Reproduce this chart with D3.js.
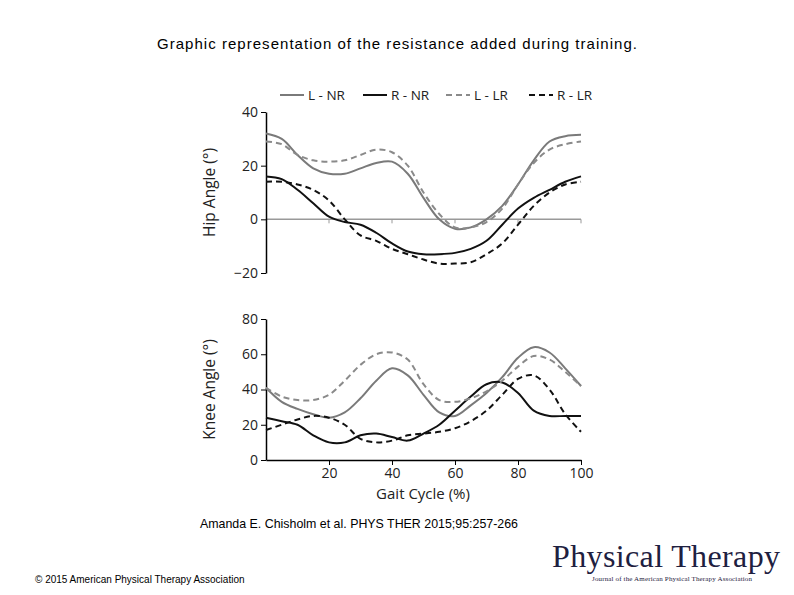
<!DOCTYPE html>
<html><head><meta charset="utf-8">
<script src="https://cdn.jsdelivr.net/npm/d3@7"></script>
<style>body{margin:0;background:#fff}svg{display:block}</style>
</head><body>
<svg id="chart" width="794" height="595"></svg>
<script>
var gait = d3.range(0, 101, 5);
var hipLNR = [32,30,24,19,17,17,19,21,21.5,17,8,0,-3.5,-3,0,5,13,22,29,31,31.5];
var hipLLR = [29,28,24,22,21.5,22,24,26,25,20,10,2,-3,-3,-1,4,13,21,26,28,29];
var hipRNR = [16,15,11,6,1,-1,-2,-5,-9,-12,-13,-13,-12.5,-11,-8,-2,4,8,11,14,16];
var hipRLR = [14,14,13,11,7,0,-6,-8,-11,-13,-15,-16.5,-16.5,-16,-13,-9,-2,5,10,13,14];
var kneeLNR = [41,33,29,26,24,27,35,45,52,48,37,27,25,31,38,47,58,64,61,52,42];
var kneeLLR = [41,36,34,34,37,45,54,60,61,57,43,34,33,35,39,45,53,59,57,50,42];
var kneeRNR = [24,22,20,14,10,10,14,15,13,11,15,20,28,36,43,44,38,28,25,25,25];
var kneeRLR = [17,20,23,25,24,20,12,10,11,14,15,16,18,22,28,37,46,48,40,26,16];
var hipTicks = [-20, 0, 20, 40];
var kneeTicks = [0, 20, 40, 60, 80];
var xTicks = [20, 40, 60, 80, 100];
var legendNames = ["L - NR", "R - NR", "L - LR", "R - LR"];

var svg = d3.select("#chart");
var font = "'Open Sans', sans-serif";
var styles = [
  {color: "#7a7a7a", dash: null},
  {color: "#111", dash: null},
  {color: "#8a8a8a", dash: "6,4"},
  {color: "#111", dash: "6,4"}
];

svg.append("text").attr("x", 397).attr("y", 49).attr("text-anchor", "middle")
  .attr("font-family", "'Liberation Sans', Arial").attr("font-size", 15)
  .attr("textLength", 480).text("Graphic representation of the resistance added during training.");

var x = d3.scaleLinear().domain([0, 100]).range([266, 581]);

// legend
legendNames.forEach(function (n, i) {
  var lx = 280 + i * 83;
  svg.append("line").attr("x1", lx).attr("x2", lx + 24).attr("y1", 95).attr("y2", 95)
    .attr("stroke", styles[i].color).attr("stroke-width", 2)
    .attr("stroke-dasharray", styles[i].dash);
  svg.append("text").attr("x", lx + 28).attr("y", 100).attr("font-family", font)
    .attr("font-size", 13.5).attr("fill", "#222").text(n);
});

function panel(series, yDomain, yRange, ticks, label, zeroLine) {
  var y = d3.scaleLinear().domain(yDomain).range(yRange);
  var g = svg.append("g");
  if (zeroLine) {
    g.append("line").attr("x1", x(0)).attr("x2", x(100)).attr("y1", y(0)).attr("y2", y(0))
      .attr("stroke", "#999").attr("stroke-width", 1.5);
    xTicks.forEach(function (t) {
      g.append("line").attr("x1", x(t)).attr("x2", x(t)).attr("y1", y(0)).attr("y2", y(0) + 4)
        .attr("stroke", "#999");
    });
  } else {
    var xa = g.append("g").attr("transform", "translate(0," + y(0) + ")")
      .call(d3.axisBottom(x).tickValues(xTicks).tickSize(5).tickSizeOuter(0));
    xa.select(".domain").attr("stroke-width", 1.5);
    xa.selectAll("text").attr("font-family", font).attr("font-size", 14).attr("fill", "#222");
  }
  var ya = g.append("g").attr("transform", "translate(" + x(0) + ",0)")
    .call(d3.axisLeft(y).tickValues(ticks).tickSize(5).tickSizeOuter(0).tickFormat(d3.format("d")));
  ya.select(".domain").attr("stroke-width", 1.5);
  ya.selectAll("text").attr("font-family", font).attr("font-size", 14).attr("fill", "#222");
  g.append("text").attr("transform", "translate(215," + ((yRange[0] + yRange[1]) / 2) + ") rotate(-90)")
    .attr("text-anchor", "middle").attr("font-family", font).attr("font-size", 15.5)
    .attr("fill", "#222").text(label);
  var line = d3.line().x(function (d, i) { return x(gait[i]); }).y(function (d) { return y(d); })
    .curve(d3.curveCatmullRom);
  series.forEach(function (s, i) {
    g.append("path").attr("d", line(s)).attr("fill", "none")
      .attr("stroke", styles[i].color).attr("stroke-width", 2)
      .attr("stroke-dasharray", styles[i].dash);
  });
}

panel([hipLNR, hipRNR, hipLLR, hipRLR], [-20, 40], [273, 112], hipTicks, "Hip Angle (°)", true);
panel([kneeLNR, kneeRNR, kneeLLR, kneeRLR], [0, 80], [460, 319], kneeTicks, "Knee Angle (°)", false);

svg.append("text").attr("x", 423).attr("y", 499).attr("text-anchor", "middle")
  .attr("font-family", font).attr("font-size", 15).attr("fill", "#222").text("Gait Cycle (%)");

svg.append("text").attr("x", 359).attr("y", 528).attr("text-anchor", "middle")
  .attr("font-family", "'Liberation Sans', Arial").attr("font-size", 12.4)
  .text("Amanda E. Chisholm et al. PHYS THER 2015;95:257-266");
svg.append("text").attr("x", 35).attr("y", 583)
  .attr("font-family", "'Liberation Sans', Arial").attr("font-size", 10)
  .text("© 2015 American Physical Therapy Association");

svg.append("text").attr("x", 552).attr("y", 567).attr("font-family", "'Liberation Serif', serif")
  .attr("font-size", 32).attr("fill", "#1e2040").attr("textLength", 228).text("Physical Therapy");
svg.append("text").attr("x", 592).attr("y", 581).attr("font-family", "'Liberation Serif', serif")
  .attr("font-size", 7).attr("fill", "#1e2040").attr("textLength", 160).text("Journal of the American Physical Therapy Association");
</script>
</body></html>
